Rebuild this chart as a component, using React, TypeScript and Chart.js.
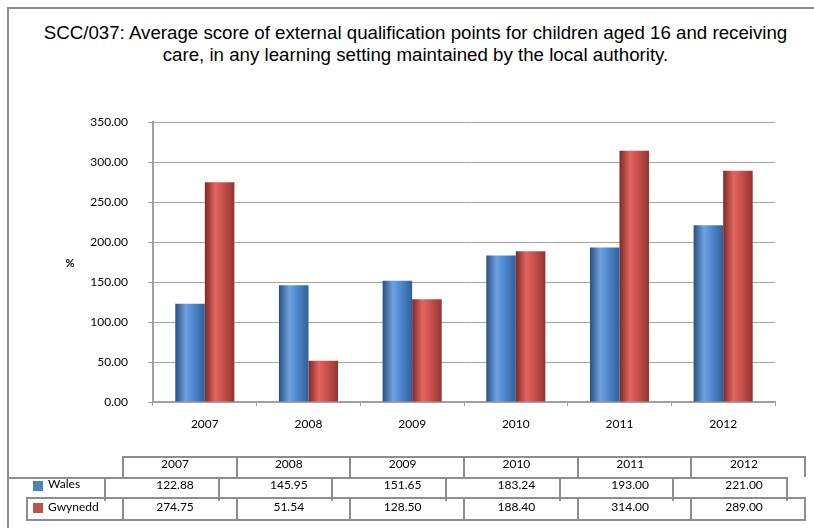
import React, { useEffect, useRef } from "react";
import { Chart, registerables } from "chart.js";

Chart.register(...registerables);

const TITLE_LINES = [
  "SCC/037: Average score of external qualification points for children aged 16 and receiving",
  "care, in any learning setting maintained by the local authority.",
];
const YEARS = ["2007", "2008", "2009", "2010", "2011", "2012"];
const WALES = [122.88, 145.95, 151.65, 183.24, 193.0, 221.0];
const GWYNEDD = [274.75, 51.54, 128.5, 188.4, 314.0, 289.0];
const SERIES_NAMES = ["Wales", "Gwynedd"];
const Y_UNIT = "%";
const Y_MAX = 350;
const Y_STEP = 50;

const BLUE = "#4F81BD";
const RED = "#C0504D";
const LINE = "#8d8d8d";
const FONT = "Lato, 'Open Sans', sans-serif";

const gradStops: Record<string, [number, string][]> = {
  [BLUE]: [
    [0, "#2A4F7E"],
    [0.35, "#6EA2E2"],
    [0.6, "#5089D0"],
    [1, "#30609A"],
  ],
  [RED]: [
    [0, "#7E2926"],
    [0.35, "#E2655F"],
    [0.6, "#CC534E"],
    [1, "#933431"],
  ],
};

const cylinderPlugin = {
  id: "cylinder",
  beforeDatasetsDraw(chart: any) {
    const ctx = chart.ctx;
    chart.data.datasets.forEach((ds: any, di: number) => {
      const meta = chart.getDatasetMeta(di);
      const stops = gradStops[ds.baseColor];
      meta.data.forEach((el: any) => {
        const { x, width } = el.getProps(["x", "width"], true);
        const g = ctx.createLinearGradient(x - width / 2, 0, x + width / 2, 0);
        stops.forEach(([o, c]) => g.addColorStop(o, c));
        el.options = { ...el.options, backgroundColor: g };
      });
    });
  },
  afterDraw(chart: any) {
    const ctx = chart.ctx;
    ctx.save();
    ctx.fillStyle = "#000";
    ctx.font = `bold 11px ${FONT}`;
    ctx.textAlign = "center";
    ctx.textBaseline = "middle";
    ctx.fillText(Y_UNIT, 70, 263);
    ctx.restore();
  },
};

function Line({ x, y, w, h }: { x: number; y: number; w: number; h: number }) {
  return (
    <div
      style={{ position: "absolute", left: x, top: y, width: w, height: h, background: LINE }}
    />
  );
}

function Txt({ cx, cy, text, left }: { cx: number; cy: number; text: string; left?: boolean }) {
  return (
    <div
      style={{
        position: "absolute",
        left: left ? cx : cx - 60,
        top: cy - 9,
        width: 120,
        height: 18,
        lineHeight: "18px",
        textAlign: left ? "left" : "center",
        font: `12px ${FONT}`,
        color: "#000",
        whiteSpace: "nowrap",
      }}
    >
      {text}
    </div>
  );
}

export default function App() {
  const ref = useRef<HTMLCanvasElement | null>(null);

  useEffect(() => {
    if (!ref.current) return;
    const chart = new Chart(ref.current, {
      type: "bar",
      data: {
        labels: YEARS,
        datasets: [
          { label: SERIES_NAMES[0], data: WALES, backgroundColor: BLUE, baseColor: BLUE } as any,
          { label: SERIES_NAMES[1], data: GWYNEDD, backgroundColor: RED, baseColor: RED } as any,
        ],
      },
      options: {
        responsive: false,
        animation: false,
        devicePixelRatio: 1,
        layout: { padding: { left: 0, right: 39, top: 122, bottom: 86 } },
        datasets: { bar: { categoryPercentage: 0.57, barPercentage: 1 } },
        plugins: { legend: { display: false }, title: { display: false }, tooltip: { enabled: false } },
        scales: {
          x: {
            grid: { drawOnChartArea: false, drawTicks: true, tickLength: 4, color: "#a0a0a0" },
            border: { color: "#a0a0a0", width: 2 },
            ticks: { font: { family: FONT, size: 12 }, color: "#000", padding: 11 },
            afterFit: (s: any) => {
              s.height = 40;
            },
          },
          y: {
            min: 0,
            max: Y_MAX,
            ticks: {
              stepSize: Y_STEP,
              callback: (v: any) => Number(v).toFixed(2),
              font: { family: FONT, size: 12 },
              color: "#000",
              padding: 20,
            },
            grid: { color: "#a6a6a6", tickLength: 5 },
            border: { color: "#a0a0a0", width: 2 },
            afterFit: (s: any) => {
              s.width = 153;
            },
          },
        },
      } as any,
      plugins: [cylinderPlugin],
    });
    return () => chart.destroy();
  }, []);

  const colW = 113.67;
  const headerTop = 456;
  const walesTop = 477;
  const gwyTop = 497;
  const gwyBottom = 519;

  const lines: { x: number; y: number; w: number; h: number }[] = [];
  lines.push({ x: 123, y: headerTop, w: 805 - 123, h: 2 });
  for (let i = 0; i <= YEARS.length; i++) {
    lines.push({ x: 123 + i * colW - 1, y: headerTop, w: 2, h: walesTop - headerTop });
  }
  lines.push({ x: 7, y: walesTop, w: 787 - 7, h: 2 });
  for (let i = 0; i <= YEARS.length; i++) {
    lines.push({ x: 105 + i * colW - 1, y: walesTop, w: 2, h: 501 - walesTop });
  }
  lines.push({ x: 26, y: gwyTop, w: 805 - 26, h: 2 });
  lines.push({ x: 26, y: gwyBottom, w: 805 - 26, h: 2 });
  lines.push({ x: 26, y: gwyTop, w: 2, h: gwyBottom - gwyTop + 2 });
  for (let i = 0; i <= YEARS.length; i++) {
    lines.push({ x: 123 + i * colW - 1, y: gwyTop, w: 2, h: gwyBottom - gwyTop + 2 });
  }

  return (
    <div
      style={{
        position: "fixed",
        left: 0,
        top: 0,
        width: 814,
        height: 528,
        background: "#fff",
        overflow: "hidden",
      }}
    >
      <div
        style={{
          position: "absolute",
          left: 7,
          top: 7,
          width: 860,
          height: 600,
          border: `2px solid ${LINE}`,
        }}
      />
      <div
        style={{
          position: "absolute",
          left: 0,
          top: 22,
          width: 831,
          textAlign: "center",
          font: "18.7px 'Liberation Sans', Arial, sans-serif",
          lineHeight: "22px",
          color: "#000",
          whiteSpace: "nowrap",
        }}
      >
        {TITLE_LINES.map((t, i) => (
          <div key={i}>{t}</div>
        ))}
      </div>
      <canvas
        ref={ref}
        width={814}
        height={528}
        style={{ position: "absolute", left: 0, top: 0, width: 814, height: 528 }}
      />
      {lines.map((l, i) => (
        <Line key={i} {...l} />
      ))}
      {YEARS.map((y, i) => (
        <Txt key={"h" + i} cx={175 + i * 113.8} cy={465} text={y} />
      ))}
      {WALES.map((v, i) => (
        <Txt key={"w" + i} cx={175 + i * 113.8} cy={486} text={v.toFixed(2)} />
      ))}
      {GWYNEDD.map((v, i) => (
        <Txt key={"g" + i} cx={175 + i * 113.8} cy={508} text={v.toFixed(2)} />
      ))}
      <div style={{ position: "absolute", left: 33, top: 481, width: 10, height: 10, background: BLUE }} />
      <Txt cx={48} cy={485} text={SERIES_NAMES[0]} left />
      <div style={{ position: "absolute", left: 33, top: 503, width: 10, height: 10, background: RED }} />
      <Txt cx={48} cy={508} text={SERIES_NAMES[1]} left />
    </div>
  );
}
